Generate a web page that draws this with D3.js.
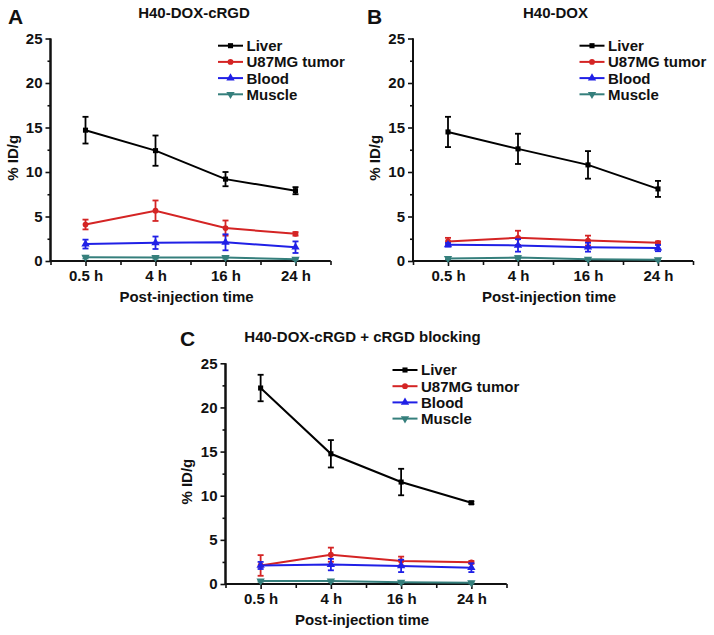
<!DOCTYPE html>
<html><head><meta charset="utf-8">
<script src="https://cdn.jsdelivr.net/npm/d3@7"></script>
<style>body{margin:0;background:#fff}svg{display:block}text{font-family:"Liberation Sans",Arial,sans-serif;font-weight:bold;fill:#111}</style>
</head><body>
<svg id="c" width="714" height="635"></svg>
<script>
const categories = ["0.5 h","4 h","16 h","24 h"];
const seriesNames = ["Liver","U87MG tumor","Blood","Muscle"];
const seriesColors = ["#000000","#d42424","#2020e6","#357f7c"];
const seriesShapes = ["square","circle","triangleUp","triangleDown"];
const yTicks = [0,5,10,15,20,25];

// Panel A: H40-DOX-cRGD
const liverA = [14.7,12.4,9.2,7.9],   liverAErr = [1.5,1.7,0.8,0.4];
const tumorA = [4.1,5.65,3.7,3.05],   tumorAErr = [0.55,1.15,0.85,0.2];
const bloodA = [1.9,2.05,2.1,1.55],   bloodAErr = [0.5,0.7,0.9,0.65];
const muscleA = [0.43,0.4,0.4,0.2],   muscleAErr = [0.15,0.15,0.15,0.1];
// Panel B: H40-DOX
const liverB = [14.5,12.6,10.8,8.1],  liverBErr = [1.7,1.7,1.55,0.9];
const tumorB = [2.2,2.6,2.3,2.05],    tumorBErr = [0.4,0.8,0.55,0.15];
const bloodB = [1.82,1.75,1.55,1.45], bloodBErr = [0.2,0.7,0.5,0.35];
const muscleB = [0.28,0.39,0.2,0.15], muscleBErr = [0.1,0.15,0.1,0.1];
// Panel C: H40-DOX-cRGD + cRGD blocking
const liverC = [22.2,14.75,11.55,9.2], liverCErr = [1.5,1.55,1.5,0.15];
const tumorC = [2.1,3.32,2.6,2.45],    tumorCErr = [1.17,0.8,0.5,0.15];
const bloodC = [2.1,2.2,2.05,1.85],    bloodCErr = [0.4,0.65,0.7,0.5];
const muscleC = [0.35,0.35,0.2,0.15],  muscleCErr = [0.1,0.1,0.1,0.1];

const panels = [
  {label:"A", title:"H40-DOX-cRGD", x0:50.5, x1:330.5, y0:261, y1:38.5,
   vals:[liverA,tumorA,bloodA,muscleA], errs:[liverAErr,tumorAErr,bloodAErr,muscleAErr],
   labelPos:[8,24], titlePos:[194,18], legX:218, legY:45.7, ytitleX:13},
  {label:"B", title:"H40-DOX", x0:413, x1:693, y0:261, y1:38.5,
   vals:[liverB,tumorB,bloodB,muscleB], errs:[liverBErr,tumorBErr,bloodBErr,muscleBErr],
   labelPos:[367,24], titlePos:[555.5,18], legX:579.5, legY:45.7, ytitleX:375},
  {label:"C", title:"H40-DOX-cRGD + cRGD blocking", x0:225.5, x1:506.5, y0:584, y1:363.3,
   vals:[liverC,tumorC,bloodC,muscleC], errs:[liverCErr,tumorCErr,bloodCErr,muscleCErr],
   labelPos:[180,346], titlePos:[362.5,341.5], legX:392.5, legY:370, ytitleX:187}
];

const svg = d3.select("#c");

function marker(g, shape, x, y, color){
  const sym = {square:d3.symbolSquare, circle:d3.symbolCircle, triangleUp:d3.symbolTriangle, triangleDown:d3.symbolTriangle}[shape];
  const size = shape==="circle" ? 26 : (shape==="square"?26:30);
  g.append("path").attr("d", d3.symbol().type(sym).size(size)())
    .attr("transform", `translate(${x},${y})` + (shape==="triangleDown"?" rotate(180)":""))
    .attr("fill", color).attr("stroke","none");
}

panels.forEach(p => {
  const g = svg.append("g");
  const x = d3.scaleLinear().domain([0.5,4.5]).range([p.x0,p.x1]);
  const y = d3.scaleLinear().domain([0,25]).range([p.y0,p.y1]);

  const yAxisMinor = d3.axisLeft(y).tickValues(d3.range(2.5,25,5)).tickSize(3).tickFormat("");
  const xAxisMinor = d3.axisBottom(x).tickValues([0.5,1.5,2.5,3.5,4.5]).tickSize(4).tickFormat("");
  const yAxis = d3.axisLeft(y).tickValues(yTicks).tickSize(5).tickPadding(3).tickFormat(d3.format("d"));
  const xAxis = d3.axisBottom(x).tickValues([1,2,3,4]).tickSize(5).tickPadding(4).tickFormat((d,i)=>categories[i]);

  [ [yAxisMinor,"y",`translate(${p.x0},0)`], [xAxisMinor,"x",`translate(0,${p.y0})`],
    [yAxis,"y",`translate(${p.x0},0)`], [xAxis,"x",`translate(0,${p.y0})`] ].forEach(([ax,k,tr])=>{
    const a = g.append("g").attr("transform",tr).call(ax);
    a.select(".domain").attr("stroke","#111").attr("stroke-width",2).attr("d",
      k==="y" ? `M0,${p.y0}V${p.y1}` : `M${p.x0},0H${p.x1}`);
    a.selectAll(".tick line").attr("stroke","#111").attr("stroke-width",1.6);
    a.selectAll(".tick text").style("font-size","15px").style("font-weight","bold")
      .style("font-family",'"Liberation Sans",Arial,sans-serif').attr("fill","#111");
  });

  g.append("text").attr("x",(p.x0+p.x1)/2 - 4).attr("y",p.y0+41).attr("text-anchor","middle")
    .style("font-size","15px").text("Post-injection time");
  g.append("text").attr("transform",`translate(${p.ytitleX},${(p.y0+p.y1)/2+8}) rotate(-90)`)
    .attr("text-anchor","middle").attr("dy","0.35em").style("font-size","15px").text("% ID/g");

  g.append("text").attr("x",p.titlePos[0]).attr("y",p.titlePos[1]).attr("text-anchor","middle")
    .style("font-size","15px").text(p.title);
  g.append("text").attr("x",p.labelPos[0]).attr("y",p.labelPos[1]).style("font-size","21px").text(p.label);

  p.vals.forEach((vals,si)=>{
    const col = seriesColors[si];
    const sg = g.append("g");
    const line = d3.line().x((d,i)=>x(i+1)).y(d=>y(d));
    sg.append("path").datum(vals).attr("d",line).attr("fill","none").attr("stroke",col).attr("stroke-width",2);
    vals.forEach((v,i)=>{
      const e = p.errs[si][i];
      const cx = x(i+1);
      sg.append("line").attr("x1",cx).attr("x2",cx).attr("y1",y(v-e)).attr("y2",y(v+e)).attr("stroke",col).attr("stroke-width",1.8);
      [v-e,v+e].forEach(t=>sg.append("line").attr("x1",cx-3).attr("x2",cx+3).attr("y1",y(t)).attr("y2",y(t)).attr("stroke",col).attr("stroke-width",1.8));
      marker(sg, seriesShapes[si], cx, y(v), col);
    });
  });

  seriesNames.forEach((n,si)=>{
    const ly = p.legY + si*16.2;
    g.append("line").attr("x1",p.legX).attr("x2",p.legX+25).attr("y1",ly).attr("y2",ly)
      .attr("stroke",seriesColors[si]).attr("stroke-width",2);
    marker(g, seriesShapes[si], p.legX+12.5, ly, seriesColors[si]);
    g.append("text").attr("x",p.legX+28.5).attr("y",ly).attr("dy","0.36em").style("font-size","15px").text(n);
  });
});
</script>
</body></html>
